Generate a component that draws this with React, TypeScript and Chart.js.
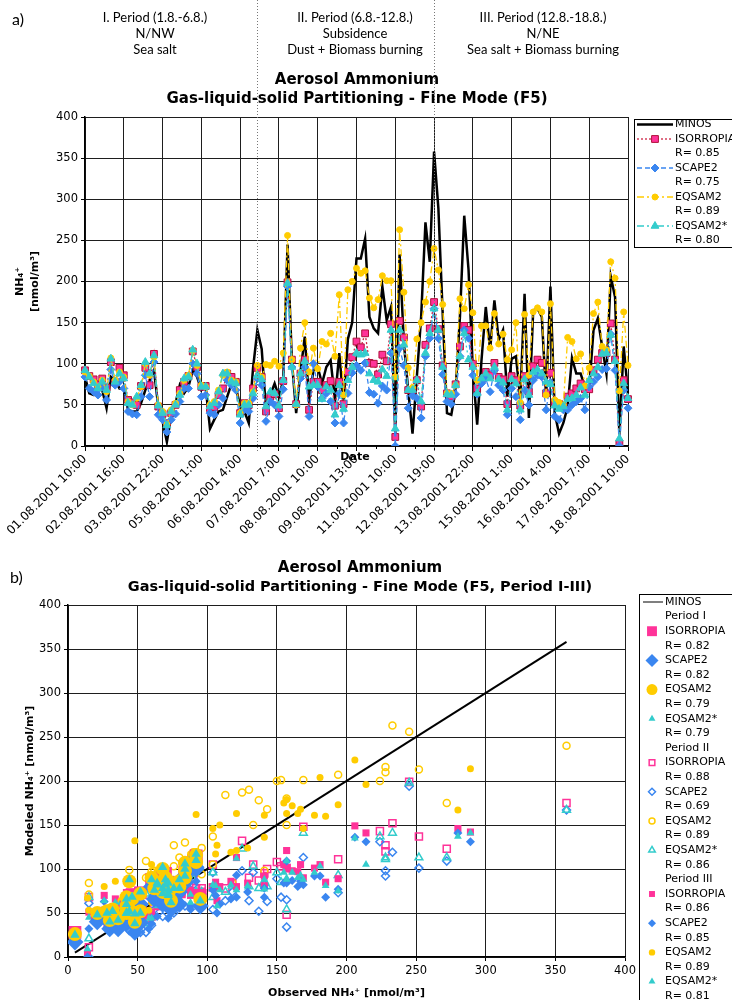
import React, { useEffect, useRef } from 'react';
import { Chart, registerables } from 'chart.js';

Chart.register(...registerables);

// ---------------- data ----------------
const tickLabels = [
  '01.08.2001 10:00', '02.08.2001 16:00', '03.08.2001 22:00', '05.08.2001 1:00',
  '06.08.2001 4:00', '07.08.2001 7:00', '08.08.2001 10:00', '09.08.2001 13:00',
  '11.08.2001 10:00', '12.08.2001 19:00', '13.08.2001 22:00', '15.08.2001 1:00',
  '16.08.2001 4:00', '17.08.2001 7:00', '18.08.2001 10:00',
];
const pointsPerLabel = 9;

const minos = [
  84, 64, 62, 72, 68, 46, 84, 80, 70, 70, 44, 42, 42, 52, 68, 80, 92, 48, 30, 5,
  36, 52, 74, 64, 72, 92, 84, 68, 72, 21, 32, 42, 44, 60, 76, 72, 48, 42, 28, 95,
  141, 118, 44, 62, 76, 60, 80, 245, 104, 40, 90, 133, 56, 92, 96, 76, 96, 104, 56, 113,
  52, 130, 150,
  228, 228, 252, 157, 143, 137, 194, 153, 169, 15, 233, 125, 68, 15, 84, 157, 272, 224, 358, 289,
  161, 40, 38, 68, 157, 280, 214, 92, 26, 104, 169, 117,
  177, 129, 141, 60, 106, 109, 58, 185, 34, 165, 167, 157, 60, 194, 40, 15, 28, 48, 107, 88,
  88, 72, 70, 141, 155, 121, 88, 206, 181, 14, 121, 64,
];
const isorropia = [
  92, 85, 81, 75, 82, 71, 102, 77, 95, 86, 56, 53, 50, 73, 95, 74, 112, 48, 39, 28,
  40, 50, 68, 78, 85, 115, 96, 72, 73, 46, 47, 62, 70, 88, 84, 78, 40, 52, 50, 70,
  95, 84, 42, 60, 63, 46, 79, 199, 105, 51, 88, 105, 44, 78, 78, 68, 74, 79, 49, 78,
  51, 90, 108,
  127, 120, 137, 101, 100, 87, 111, 103, 148, 11, 152, 132, 68, 68, 80, 48, 123, 143, 175, 142,
  98, 64, 60, 75, 121, 146, 141, 100, 70, 80, 90, 86,
  101, 84, 81, 51, 85, 80, 49, 85, 66, 97, 105, 101, 64, 89, 53, 51, 48, 60, 64, 70,
  76, 69, 69, 92, 105, 113, 113, 149, 105, 3, 80, 57,
];
const scape2 = [
  84, 70, 66, 62, 72, 56, 93, 74, 78, 70, 42, 39, 38, 60, 86, 60, 102, 38, 32, 17,
  32, 39, 54, 70, 70, 100, 88, 60, 62, 40, 38, 50, 58, 80, 74, 68, 28, 44, 42, 58,
  82, 74, 30, 54, 50, 36, 69, 194, 96, 50, 82, 96, 36, 100, 72, 58, 64, 54, 28, 64,
  28, 64, 89,
  98, 92, 101, 65, 63, 52, 73, 68, 113, 0, 119, 98, 46, 61, 58, 34, 109, 131, 167, 131,
  87, 54, 51, 63, 109, 141, 131, 86, 63, 76, 82, 66,
  92, 74, 68, 38, 70, 60, 32, 68, 50, 80, 86, 84, 44, 77, 36, 32, 44, 44, 50, 54,
  58, 44, 72, 78, 84, 93, 94, 136, 92, 0, 68, 46,
];
const eqsam2 = [
  90, 85, 78, 72, 80, 66, 107, 80, 90, 84, 54, 50, 58, 72, 100, 86, 108, 50, 42, 26,
  44, 52, 64, 80, 86, 116, 98, 74, 72, 50, 54, 68, 86, 90, 80, 78, 40, 52, 52, 66,
  98, 84, 99, 98, 103, 97, 113, 256, 105, 50, 119, 150, 90, 119, 94, 127, 124, 137, 109, 184,
  62, 190, 200,
  216, 210, 213, 180, 168, 178, 207, 201, 201, 84, 263, 187, 95, 71, 130, 150, 175, 200, 240, 214,
  172, 64, 64, 74, 179, 167, 196, 162, 80, 146, 146, 119,
  161, 124, 136, 105, 117, 150, 53, 160, 86, 163, 168, 163, 62, 173, 56, 53, 50, 132, 127, 106,
  112, 73, 95, 161, 175, 121, 117, 224, 204, 67, 163, 98,
];
const eqsam2star = [
  92, 84, 76, 70, 78, 68, 106, 78, 88, 82, 52, 50, 60, 74, 102, 88, 110, 49, 40, 25,
  42, 50, 62, 82, 84, 117, 100, 72, 72, 48, 52, 66, 88, 88, 78, 76, 38, 50, 50, 64,
  86, 81, 48, 66, 64, 49, 80, 198, 96, 51, 88, 103, 72, 74, 74, 57, 72, 68, 38, 74,
  45, 80, 96,
  113, 111, 113, 88, 80, 78, 93, 85, 141, 21, 141, 123, 68, 68, 80, 54, 113, 137, 167, 141,
  96, 63, 62, 74, 109, 137, 105, 96, 64, 82, 88, 82,
  96, 81, 77, 44, 81, 76, 44, 81, 62, 90, 93, 88, 78, 75, 49, 45, 48, 57, 58, 62,
  71, 62, 80, 88, 96, 112, 113, 135, 103, 9, 76, 58,
];

const periodFirstIndex = [0, 40, 82];
const periodHeaders = [
  ['I. Period (1.8.-6.8.)', 'N/NW', 'Sea salt'],
  ['II. Period (6.8.-12.8.)', 'Subsidence', 'Dust + Biomass burning'],
  ['III. Period (12.8.-18.8.)', 'N/NE', 'Sea salt + Biomass burning'],
];
const periodNames = ['Period I', 'Period II', 'Period III'];
const modelNames = ['ISORROPIA', 'SCAPE2', 'EQSAM2', 'EQSAM2*'];
const rSeries = ['0.85', '0.75', '0.89', '0.80'];
const rScatter = [
  ['0.82', '0.82', '0.79', '0.79'],
  ['0.88', '0.69', '0.89', '0.86'],
  ['0.86', '0.85', '0.89', '0.81'],
];

// ---------------- styles ----------------
const FONT = '"DejaVu Sans", Verdana, sans-serif';
const HUM = 'Lato, "Open Sans", sans-serif';
const PINK = '#ff3399';
const PINK_EDGE = '#b0103a';
const BLUE = '#3a86f0';
const YELLOW = '#ffcc00';
const TEAL = '#33cccc';
const RED_LINE = '#cc2244';
const GRID = '#1e1e1e';

const modelData = [isorropia, scape2, eqsam2, eqsam2star];
const lineStyles = [
  { line: RED_LINE, dash: [2, 2], point: 'rect', r: 4.8, fill: PINK, edge: PINK_EDGE },
  { line: BLUE, dash: [5, 3], point: 'rectRot', r: 4, fill: BLUE, edge: BLUE },
  { line: YELLOW, dash: [7, 3, 2, 3], point: 'circle', r: 3, fill: YELLOW, edge: YELLOW },
  { line: TEAL, dash: [7, 3, 2, 3, 2, 3], point: 'triangle', r: 4.5, fill: TEAL, edge: TEAL },
];
const modelColors = [PINK, BLUE, YELLOW, TEAL];
const modelShapes = ['rect', 'rectRot', 'circle', 'triangle'];
const scatterRadius = [
  [9, 8.5, 7, 5.4],
  [5, 4, 3.5, 4.5],
  [5, 4.5, 3.5, 4.5],
];
const scatterHollow = [false, true, false];
// drawing layer of each period in the scatter (lower = further back)
const scatterLayer = [2, 0, 1];
const legendRadius = [
  [7, 6.5, 5.5, 4],
  [4, 3.5, 3, 3.8],
  [4.2, 4, 3.2, 4],
];

function marker(ctx: CanvasRenderingContext2D, shape: string, x: number, y: number, r: number,
  fill: string | null, stroke: string | null, lw: number) {
  ctx.beginPath();
  if (shape === 'rect') {
    const s = r * Math.SQRT1_2;
    ctx.rect(x - s, y - s, 2 * s, 2 * s);
  } else if (shape === 'rectRot') {
    ctx.moveTo(x - r, y); ctx.lineTo(x, y - r); ctx.lineTo(x + r, y); ctx.lineTo(x, y + r);
    ctx.closePath();
  } else if (shape === 'triangle') {
    for (let k = 0; k < 3; k++) {
      const a = k * (2 * Math.PI / 3);
      const px = x + Math.sin(a) * r;
      const py = y - Math.cos(a) * r;
      if (k === 0) ctx.moveTo(px, py); else ctx.lineTo(px, py);
    }
    ctx.closePath();
  } else {
    ctx.arc(x, y, r, 0, Math.PI * 2);
  }
  if (fill) { ctx.fillStyle = fill; ctx.fill(); }
  if (stroke && lw > 0) { ctx.setLineDash([]); ctx.strokeStyle = stroke; ctx.lineWidth = lw; ctx.stroke(); }
}

function text(ctx: CanvasRenderingContext2D, s: string, x: number, y: number, font: string,
  align: CanvasTextAlign = 'center') {
  ctx.font = font;
  ctx.fillStyle = '#000';
  ctx.textAlign = align;
  ctx.textBaseline = 'middle';
  ctx.fillText(s, x, y);
}

function vtext(ctx: CanvasRenderingContext2D, s: string, x: number, y: number, font: string) {
  ctx.save();
  ctx.translate(x, y);
  ctx.rotate(-Math.PI / 2);
  text(ctx, s, 0, 0, font);
  ctx.restore();
}

const decorA = {
  id: 'decorA',
  afterDraw(chart: any) {
    const ctx: CanvasRenderingContext2D = chart.ctx;
    const xs = chart.scales.x;
    const area = chart.chartArea;
    ctx.save();
    // minor ticks
    ctx.strokeStyle = '#000';
    ctx.lineWidth = 1;
    for (let k = 0; k < tickLabels.length - 1; k++) {
      const px = Math.round((xs.getPixelForValue(k * pointsPerLabel) + xs.getPixelForValue((k + 1) * pointsPerLabel)) / 2) + 0.5;
      ctx.beginPath(); ctx.moveTo(px, area.bottom); ctx.lineTo(px, area.bottom + 3); ctx.stroke();
    }
    // period separators
    ctx.strokeStyle = '#777';
    ctx.setLineDash([1, 2]);
    [periodFirstIndex[1], periodFirstIndex[2] - 1].forEach((idx) => {
      const px = Math.round(xs.getPixelForValue(idx)) + 0.5;
      ctx.beginPath(); ctx.moveTo(px, 0); ctx.lineTo(px, area.bottom + 7); ctx.stroke();
    });
    ctx.setLineDash([]);
    // period headers
    const hx = [155, 355, 543];
    periodHeaders.forEach((lines, p) => lines.forEach((s, j) => text(ctx, s, hx[p], 18 + j * 16, `13px ${HUM}`)));
    text(ctx, 'a)', 12, 20, `16px ${HUM}`, 'left');
    // titles
    text(ctx, 'Aerosol Ammonium', 357, 80, `bold 15px ${FONT}`);
    text(ctx, 'Gas-liquid-solid Partitioning - Fine Mode (F5)', 357, 99, `bold 15px ${FONT}`);
    // axis titles
    const cy = (area.top + area.bottom) / 2;
    vtext(ctx, 'NH\u2084\u207A', 20, cy, `bold 11px ${FONT}`);
    vtext(ctx, '[nmol/m\u00B3]', 35, cy, `bold 11px ${FONT}`);
    text(ctx, 'Date', 355, 457, `bold 11px ${FONT}`);
    // legend
    const lx = 634.5, ly = 119.5;
    ctx.strokeStyle = '#000'; ctx.lineWidth = 1;
    ctx.strokeRect(lx, ly, 120, 128);
    const step = 14.5;
    let y = 124.5;
    ctx.beginPath(); ctx.moveTo(637, y); ctx.lineTo(673, y); ctx.lineWidth = 2.5; ctx.strokeStyle = '#000'; ctx.stroke();
    text(ctx, 'MINOS', 675, y, `11px ${FONT}`, 'left');
    lineStyles.forEach((s, k) => {
      y += step;
      ctx.beginPath(); ctx.setLineDash(s.dash); ctx.moveTo(637, y); ctx.lineTo(673, y);
      ctx.lineWidth = 1.3; ctx.strokeStyle = s.line; ctx.stroke(); ctx.setLineDash([]);
      marker(ctx, s.point, 655, y, s.r, s.fill, s.edge, 1);
      text(ctx, modelNames[k], 675, y, `11px ${FONT}`, 'left');
      y += step;
      text(ctx, 'R= ' + rSeries[k], 675, y, `11px ${FONT}`, 'left');
    });
    ctx.restore();
  },
};

const decorB = {
  id: 'decorB',
  afterDraw(chart: any) {
    const ctx: CanvasRenderingContext2D = chart.ctx;
    const area = chart.chartArea;
    ctx.save();
    text(ctx, 'b)', 10, 578, `16px ${HUM}`, 'left');
    text(ctx, 'Aerosol Ammonium', 360, 568, `bold 15px ${FONT}`);
    text(ctx, 'Gas-liquid-solid Partitioning - Fine Mode (F5, Period I-III)', 360, 587, `bold 14.5px ${FONT}`);
    vtext(ctx, 'Modeled NH\u2084\u207A [nmol/m\u00B3]', 30, (area.top + area.bottom) / 2, `bold 11px ${FONT}`);
    text(ctx, 'Observed NH\u2084\u207A [nmol/m\u00B3]', (area.left + area.right) / 2, 993, `bold 11px ${FONT}`);
    // legend
    ctx.strokeStyle = '#000'; ctx.lineWidth = 1;
    ctx.strokeRect(639.5, 594.5, 120, 420);
    const step = 14.6;
    let y = 602;
    ctx.beginPath(); ctx.moveTo(643, y); ctx.lineTo(663, y); ctx.lineWidth = 1.5; ctx.strokeStyle = '#555'; ctx.stroke();
    text(ctx, 'MINOS', 665, y, `11px ${FONT}`, 'left');
    periodNames.forEach((pn, p) => {
      y += step;
      text(ctx, pn, 665, y, `11px ${FONT}`, 'left');
      modelNames.forEach((mn, k) => {
        y += step;
        const c = modelColors[k];
        if (scatterHollow[p]) marker(ctx, modelShapes[k], 652, y, legendRadius[p][k], null, c, 1.5);
        else marker(ctx, modelShapes[k], 652, y, legendRadius[p][k], c, null, 0);
        text(ctx, mn, 665, y, `11px ${FONT}`, 'left');
        y += step;
        text(ctx, 'R= ' + rScatter[p][k], 665, y, `11px ${FONT}`, 'left');
      });
    });
    ctx.restore();
  },
};

export default function App() {
  const refA = useRef<HTMLCanvasElement>(null);
  const refB = useRef<HTMLCanvasElement>(null);

  useEffect(() => {
    const labels = minos.map((_, i) => (i % pointsPerLabel === 0 ? tickLabels[i / pointsPerLabel] : ''));
    const tickFont = { family: FONT, size: 11.5 };

    const dsA: any[] = [
      { label: 'MINOS', data: minos, borderColor: '#000', borderWidth: 2.5, pointRadius: 0, order: 10, tension: 0 },
      ...modelData.map((d, k) => {
        const s = lineStyles[k];
        return {
          label: modelNames[k], data: d, borderColor: s.line, borderWidth: 1.3, borderDash: s.dash,
          pointStyle: s.point, pointRadius: s.r, pointBackgroundColor: s.fill, pointBorderColor: s.edge,
          pointBorderWidth: 1, order: 4 - k, tension: 0,
        };
      }),
    ];

    const chartA = new Chart(refA.current!, {
      type: 'line',
      data: { labels, datasets: dsA },
      options: {
        responsive: false,
        animation: false,
        devicePixelRatio: 1,
        layout: { padding: { left: 0, top: 117, right: 104, bottom: 455 } },
        plugins: { legend: { display: false }, tooltip: { enabled: false }, title: { display: false } },
        scales: {
          x: {
            type: 'category',
            offset: false,
            grid: {
              color: (c: any) => (c.index % pointsPerLabel === 0 ? GRID : 'rgba(0,0,0,0)'),
              tickColor: (c: any) => (c.index % pointsPerLabel === 0 ? '#000' : 'rgba(0,0,0,0)'),
              tickLength: 5,
              lineWidth: 1,
            },
            border: { color: '#000', width: 1.5 },
            ticks: {
              autoSkip: false, minRotation: 45, maxRotation: 45, padding: 1,
              font: { family: FONT, size: 12 }, color: '#000',
              callback: (_v: any, i: number) => labels[i],
            },
            afterFit: (s: any) => { s.height = 99; s.paddingLeft = 0; s.paddingRight = 0; },
          },
          y: {
            min: 0, max: 400,
            grid: { color: GRID, tickLength: 4, tickColor: '#000', lineWidth: 1 },
            border: { color: '#000', width: 1.5 },
            ticks: { stepSize: 50, font: tickFont, color: '#000', padding: 3 },
            afterFit: (s: any) => { s.width = 85; s.paddingTop = 0; s.paddingBottom = 0; },
          },
        },
      },
      plugins: [decorA],
    } as any);

    const lo = Math.min(...minos);
    const hi = Math.max(...minos);
    const dsB: any[] = [
      { label: 'MINOS', data: [{ x: lo, y: lo }, { x: hi, y: hi }], showLine: true, borderColor: '#000', borderWidth: 2, pointRadius: 0, order: 100 },
    ];
    periodFirstIndex.forEach((start, p) => {
      const end = p + 1 < periodFirstIndex.length ? periodFirstIndex[p + 1] - 1 : minos.length - 1;
      modelData.forEach((d, k) => {
        const pts: { x: number; y: number }[] = [];
        for (let i = start; i <= end; i++) pts.push({ x: minos[i], y: d[i] });
        const c = modelColors[k];
        dsB.push({
          label: `${periodNames[p]} ${modelNames[k]}`,
          data: pts,
          showLine: false,
          pointStyle: modelShapes[k],
          pointRadius: scatterRadius[p][k],
          pointBackgroundColor: scatterHollow[p] ? 'rgba(0,0,0,0)' : c,
          pointBorderColor: c,
          pointBorderWidth: scatterHollow[p] ? 1.5 : 0,
          order: 50 - (scatterLayer[p] * 4 + k),
        });
      });
    });

    const chartB = new Chart(refB.current!, {
      type: 'scatter',
      data: { datasets: dsB },
      options: {
        responsive: false,
        animation: false,
        devicePixelRatio: 1,
        layout: { padding: { left: 0, top: 605, right: 107, bottom: 0 } },
        plugins: { legend: { display: false }, tooltip: { enabled: false }, title: { display: false } },
        scales: {
          x: {
            type: 'linear', min: 0, max: 400,
            grid: { color: GRID, tickLength: 4, tickColor: '#000', lineWidth: 1 },
            border: { color: '#000', width: 1.5 },
            ticks: { stepSize: 50, font: tickFont, color: '#000', padding: 3 },
            afterFit: (s: any) => { s.height = 43; s.paddingLeft = 0; s.paddingRight = 0; },
          },
          y: {
            type: 'linear', min: 0, max: 400,
            grid: { color: GRID, tickLength: 4, tickColor: '#000', lineWidth: 1 },
            border: { color: '#000', width: 1.5 },
            ticks: { stepSize: 50, font: tickFont, color: '#000', padding: 3 },
            afterFit: (s: any) => { s.width = 68; s.paddingTop = 0; s.paddingBottom = 0; },
          },
        },
      },
      plugins: [decorB],
    } as any);

    return () => { chartA.destroy(); chartB.destroy(); };
  }, []);

  const cstyle: React.CSSProperties = { position: 'absolute', left: 0, top: 0, display: 'block' };
  return (
    <div style={{ position: 'absolute', left: 0, top: 0, width: 732, height: 1000, background: '#fff', overflow: 'hidden' }}>
      <canvas ref={refA} width={732} height={1000} style={cstyle} />
      <canvas ref={refB} width={732} height={1000} style={cstyle} />
    </div>
  );
}
